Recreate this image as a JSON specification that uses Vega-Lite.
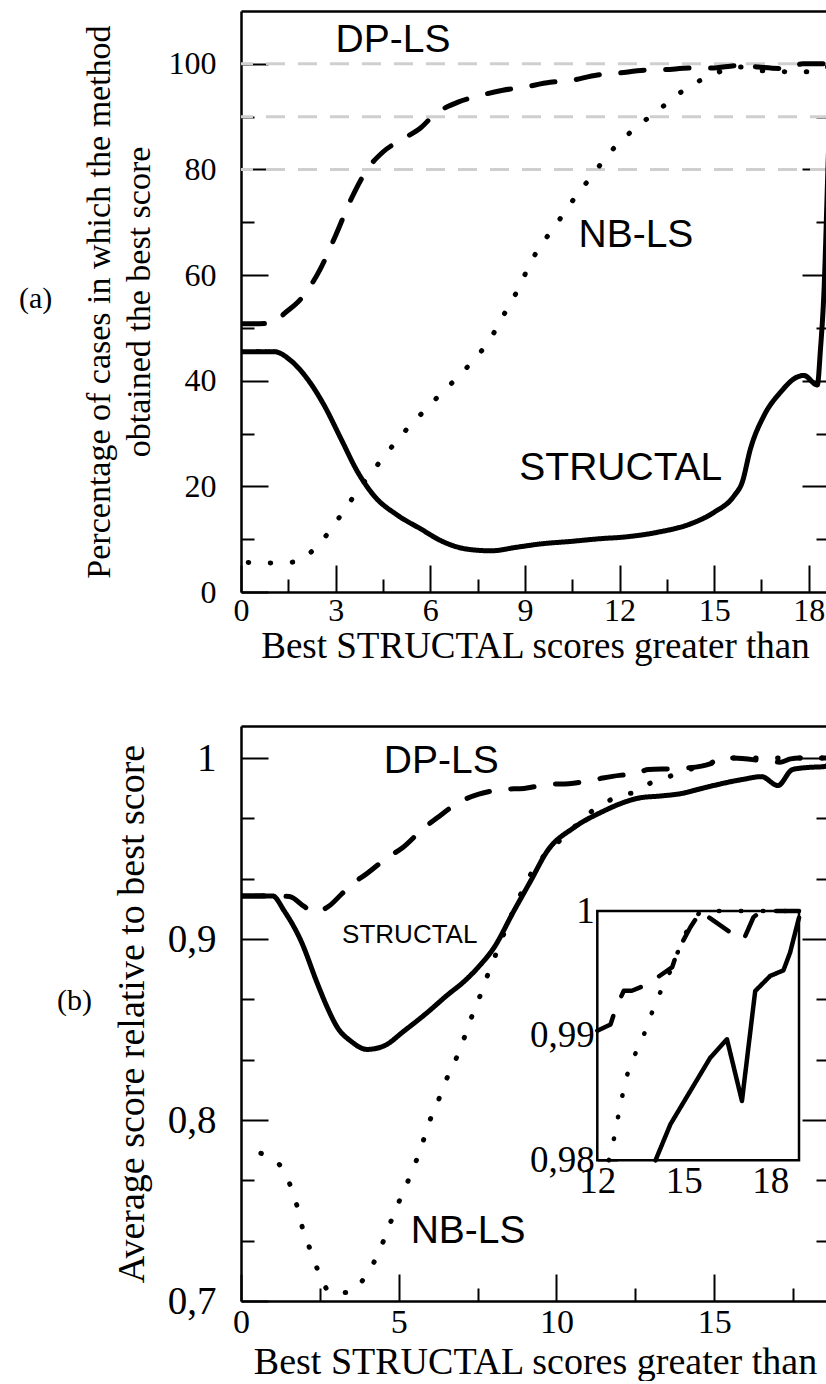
{
  "$schema": "https://vega.github.io/schema/vega-lite/v6.json",
  "padding": {"left": 18, "top": 11, "right": 0, "bottom": 0},
  "background": "white",
  "spacing": 62,
  "config": {
    "view": {"stroke": null},
    "axis": {
      "labelFont": "Liberation Serif", "titleFont": "Liberation Serif",
      "labelColor": "black", "titleColor": "black", "domainColor": "black", "tickColor": "black",
      "titleFontWeight": "normal", "domainWidth": 2.5, "tickWidth": 2, "grid": false,
      "labelFlush": false, "labelOverlap": false
    }
  },
  "datasets": {
    "a": [
      {"series":"STRUCTAL","x":0,"y":45.5},{"series":"STRUCTAL","x":0.5,"y":45.5},{"series":"STRUCTAL","x":1.05,"y":45.5},{"series":"STRUCTAL","x":1.58,"y":43.8},{"series":"STRUCTAL","x":2.11,"y":40.3},{"series":"STRUCTAL","x":2.64,"y":35.3},{"series":"STRUCTAL","x":3.17,"y":29.0},{"series":"STRUCTAL","x":3.7,"y":22.7},{"series":"STRUCTAL","x":4.22,"y":18.2},{"series":"STRUCTAL","x":4.97,"y":14.5},{"series":"STRUCTAL","x":5.71,"y":11.9},{"series":"STRUCTAL","x":6.34,"y":9.7},{"series":"STRUCTAL","x":7.18,"y":8.1},{"series":"STRUCTAL","x":7.92,"y":7.8},{"series":"STRUCTAL","x":8.77,"y":8.5},{"series":"STRUCTAL","x":9.5,"y":9.1},{"series":"STRUCTAL","x":10.5,"y":9.6},{"series":"STRUCTAL","x":11.4,"y":10.1},{"series":"STRUCTAL","x":12.14,"y":10.4},{"series":"STRUCTAL","x":13.2,"y":11.3},{"series":"STRUCTAL","x":14.25,"y":12.9},{"series":"STRUCTAL","x":15.0,"y":15.1},{"series":"STRUCTAL","x":15.63,"y":18.2},{"series":"STRUCTAL","x":15.89,"y":20.8},{"series":"STRUCTAL","x":16.15,"y":27.1},{"series":"STRUCTAL","x":16.58,"y":33.4},{"series":"STRUCTAL","x":17.1,"y":37.8},{"series":"STRUCTAL","x":17.63,"y":40.7},{"series":"STRUCTAL","x":17.84,"y":41.0},{"series":"STRUCTAL","x":18.27,"y":39.2},{"series":"STRUCTAL","x":18.37,"y":46},{"series":"STRUCTAL","x":18.47,"y":55.5},{"series":"STRUCTAL","x":18.64,"y":86},{"series":"STRUCTAL","x":18.75,"y":101},
      {"series":"DP-LS","x":0,"y":50.8},{"series":"DP-LS","x":0.57,"y":50.8},{"series":"DP-LS","x":1.05,"y":51.0},{"series":"DP-LS","x":1.37,"y":52.7},{"series":"DP-LS","x":1.9,"y":55.5},{"series":"DP-LS","x":2.5,"y":61.0},{"series":"DP-LS","x":3.0,"y":67.5},{"series":"DP-LS","x":3.5,"y":74.5},{"series":"DP-LS","x":4.0,"y":80.0},{"series":"DP-LS","x":4.5,"y":83.3},{"series":"DP-LS","x":5.2,"y":86.0},{"series":"DP-LS","x":5.7,"y":87.9},{"series":"DP-LS","x":6.1,"y":90.2},{"series":"DP-LS","x":6.9,"y":92.8},{"series":"DP-LS","x":7.4,"y":93.7},{"series":"DP-LS","x":8.3,"y":95.0},{"series":"DP-LS","x":8.9,"y":95.5},{"series":"DP-LS","x":9.8,"y":96.5},{"series":"DP-LS","x":10.4,"y":96.8},{"series":"DP-LS","x":11.3,"y":97.9},{"series":"DP-LS","x":11.9,"y":98.2},{"series":"DP-LS","x":12.8,"y":98.8},{"series":"DP-LS","x":13.4,"y":98.9},{"series":"DP-LS","x":14.3,"y":99.2},{"series":"DP-LS","x":14.9,"y":99.2},{"series":"DP-LS","x":15.8,"y":99.7},{"series":"DP-LS","x":16.4,"y":99.4},{"series":"DP-LS","x":17.3,"y":99.1},{"series":"DP-LS","x":17.8,"y":100},{"series":"DP-LS","x":18.64,"y":100},
      {"series":"NB-LS","x":0.23,"y":5.6},{"series":"NB-LS","x":1.0,"y":5.5},{"series":"NB-LS","x":1.71,"y":5.7},{"series":"NB-LS","x":2.35,"y":8.3},{"series":"NB-LS","x":2.82,"y":11.6},{"series":"NB-LS","x":3.25,"y":15.3},{"series":"NB-LS","x":3.67,"y":18.9},{"series":"NB-LS","x":4.12,"y":22.5},{"series":"NB-LS","x":4.56,"y":25.8},{"series":"NB-LS","x":5.04,"y":29.4},{"series":"NB-LS","x":5.51,"y":32.4},{"series":"NB-LS","x":6.03,"y":35.7},{"series":"NB-LS","x":6.57,"y":38.9},{"series":"NB-LS","x":7.08,"y":42.0},{"series":"NB-LS","x":7.58,"y":45.3},{"series":"NB-LS","x":8.01,"y":49.0},{"series":"NB-LS","x":8.36,"y":52.8},{"series":"NB-LS","x":8.73,"y":56.7},{"series":"NB-LS","x":9.05,"y":60.7},{"series":"NB-LS","x":9.39,"y":64.6},{"series":"NB-LS","x":9.82,"y":68.2},{"series":"NB-LS","x":10.25,"y":71.8},{"series":"NB-LS","x":10.67,"y":75.4},{"series":"NB-LS","x":11.13,"y":78.8},{"series":"NB-LS","x":11.58,"y":82.4},{"series":"NB-LS","x":12.08,"y":85.6},{"series":"NB-LS","x":12.64,"y":88.5},{"series":"NB-LS","x":13.23,"y":91.2},{"series":"NB-LS","x":13.8,"y":94.0},{"series":"NB-LS","x":14.42,"y":96.4},{"series":"NB-LS","x":15.08,"y":98.3},{"series":"NB-LS","x":15.78,"y":99.4},{"series":"NB-LS","x":16.5,"y":98.7},{"series":"NB-LS","x":17.3,"y":98.5},{"series":"NB-LS","x":18.0,"y":98.5},{"series":"NB-LS","x":18.64,"y":99.5}
    ],
    "a_grid": [{"level":80},{"level":90},{"level":100}],
    "a_text": [
      {"label":"DP-LS","x":4.82,"y":104.5},
      {"label":"NB-LS","x":12.52,"y":67.6},
      {"label":"STRUCTAL","x":12.04,"y":23.5}
    ],
    "b": [
      {"series":"STRUCTAL","x":0,"y":0.9238},{"series":"STRUCTAL","x":1.0,"y":0.9238},{"series":"STRUCTAL","x":1.37,"y":0.9155},{"series":"STRUCTAL","x":1.9,"y":0.899},{"series":"STRUCTAL","x":2.43,"y":0.875},{"series":"STRUCTAL","x":2.74,"y":0.862},{"series":"STRUCTAL","x":3.06,"y":0.851},{"series":"STRUCTAL","x":3.48,"y":0.8436},{"series":"STRUCTAL","x":4.0,"y":0.839},{"series":"STRUCTAL","x":4.53,"y":0.8409},{"series":"STRUCTAL","x":5.17,"y":0.8492},{"series":"STRUCTAL","x":5.9,"y":0.8593},{"series":"STRUCTAL","x":6.54,"y":0.869},{"series":"STRUCTAL","x":7.07,"y":0.8765},{"series":"STRUCTAL","x":7.5,"y":0.884},{"series":"STRUCTAL","x":8.02,"y":0.8952},{"series":"STRUCTAL","x":8.65,"y":0.9155},{"series":"STRUCTAL","x":9.18,"y":0.932},{"series":"STRUCTAL","x":9.71,"y":0.9486},{"series":"STRUCTAL","x":10.55,"y":0.9615},{"series":"STRUCTAL","x":11.39,"y":0.9698},{"series":"STRUCTAL","x":12.66,"y":0.978},{"series":"STRUCTAL","x":13.3,"y":0.979},{"series":"STRUCTAL","x":14.0,"y":0.9805},{"series":"STRUCTAL","x":14.54,"y":0.9829},{"series":"STRUCTAL","x":15.92,"y":0.9882},{"series":"STRUCTAL","x":16.5,"y":0.9897},{"series":"STRUCTAL","x":17.02,"y":0.9848},{"series":"STRUCTAL","x":17.48,"y":0.9936},{"series":"STRUCTAL","x":18.0,"y":0.9948},{"series":"STRUCTAL","x":18.46,"y":0.9952},{"series":"STRUCTAL","x":18.64,"y":0.9963},
      {"series":"DP-LS","x":0,"y":0.9238},{"series":"DP-LS","x":1.0,"y":0.9238},{"series":"DP-LS","x":1.53,"y":0.9235},{"series":"DP-LS","x":2.0,"y":0.918},{"series":"DP-LS","x":2.3,"y":0.9148},{"series":"DP-LS","x":2.79,"y":0.9182},{"series":"DP-LS","x":3.2,"y":0.925},{"series":"DP-LS","x":3.64,"y":0.932},{"series":"DP-LS","x":3.9,"y":0.935},{"series":"DP-LS","x":4.64,"y":0.945},{"series":"DP-LS","x":5.12,"y":0.9504},{"series":"DP-LS","x":5.75,"y":0.9606},{"series":"DP-LS","x":6.22,"y":0.967},{"series":"DP-LS","x":6.96,"y":0.976},{"series":"DP-LS","x":7.54,"y":0.98},{"series":"DP-LS","x":8.33,"y":0.9827},{"series":"DP-LS","x":8.97,"y":0.9832},{"series":"DP-LS","x":9.76,"y":0.9855},{"series":"DP-LS","x":10.39,"y":0.9858},{"series":"DP-LS","x":11.18,"y":0.988},{"series":"DP-LS","x":12.0,"y":0.9904},{"series":"DP-LS","x":12.46,"y":0.9909},{"series":"DP-LS","x":12.64,"y":0.9922},{"series":"DP-LS","x":12.92,"y":0.9936},{"series":"DP-LS","x":13.73,"y":0.9941},{"series":"DP-LS","x":14.6,"y":0.9955},{"series":"DP-LS","x":15.23,"y":0.9987},{"series":"DP-LS","x":15.6,"y":1.0},{"series":"DP-LS","x":16.73,"y":0.9981},{"series":"DP-LS","x":17.08,"y":0.9977},{"series":"DP-LS","x":17.42,"y":0.9995},{"series":"DP-LS","x":17.7,"y":1.0},{"series":"DP-LS","x":18.64,"y":1.0},
      {"series":"NB-LS","x":0.63,"y":0.7816},{"series":"NB-LS","x":1.21,"y":0.7755},{"series":"NB-LS","x":1.56,"y":0.764},{"series":"NB-LS","x":1.79,"y":0.7516},{"series":"NB-LS","x":1.97,"y":0.739},{"series":"NB-LS","x":2.22,"y":0.7273},{"series":"NB-LS","x":2.48,"y":0.7151},{"series":"NB-LS","x":2.87,"y":0.7043},{"series":"NB-LS","x":3.48,"y":0.705},{"series":"NB-LS","x":3.98,"y":0.7147},{"series":"NB-LS","x":4.33,"y":0.7254},{"series":"NB-LS","x":4.61,"y":0.7374},{"series":"NB-LS","x":4.88,"y":0.7497},{"series":"NB-LS","x":5.17,"y":0.7612},{"series":"NB-LS","x":5.46,"y":0.7733},{"series":"NB-LS","x":5.72,"y":0.7853},{"series":"NB-LS","x":5.94,"y":0.7976},{"series":"NB-LS","x":6.22,"y":0.8092},{"series":"NB-LS","x":6.49,"y":0.8215},{"series":"NB-LS","x":6.8,"y":0.8331},{"series":"NB-LS","x":7.07,"y":0.8451},{"series":"NB-LS","x":7.31,"y":0.8569},{"series":"NB-LS","x":7.59,"y":0.8691},{"series":"NB-LS","x":7.86,"y":0.882},{"series":"NB-LS","x":8.12,"y":0.8934},{"series":"NB-LS","x":8.39,"y":0.9054},{"series":"NB-LS","x":8.9,"y":0.926},{"series":"NB-LS","x":9.34,"y":0.9403},{"series":"NB-LS","x":9.81,"y":0.9496},{"series":"NB-LS","x":10.39,"y":0.9587},{"series":"NB-LS","x":10.86,"y":0.967},{"series":"NB-LS","x":11.55,"y":0.9753},{"series":"NB-LS","x":12.13,"y":0.98},{"series":"NB-LS","x":12.52,"y":0.981},{"series":"NB-LS","x":12.83,"y":0.9847},{"series":"NB-LS","x":13.25,"y":0.9882},{"series":"NB-LS","x":13.59,"y":0.9899},{"series":"NB-LS","x":13.87,"y":0.9917},{"series":"NB-LS","x":14.19,"y":0.9935},{"series":"NB-LS","x":14.6,"y":0.9955},{"series":"NB-LS","x":15.0,"y":0.998},{"series":"NB-LS","x":15.58,"y":1.0},{"series":"NB-LS","x":18.64,"y":1.0}
    ],
    "b_text": [
      {"label":"DP-LS","x":6.35,"y":0.9983},
      {"label":"NB-LS","x":7.2,"y":0.7387}
    ],
    "b_small": [{"label":"STRUCTAL","x":5.35,"y":0.9022}],
    "inset": [
      {"series":"STRUCTAL","x":14.02,"y":0.98},{"series":"STRUCTAL","x":14.54,"y":0.9829},{"series":"STRUCTAL","x":15.92,"y":0.98823},{"series":"STRUCTAL","x":16.5,"y":0.98971},{"series":"STRUCTAL","x":17.02,"y":0.98476},{"series":"STRUCTAL","x":17.48,"y":0.99358},{"series":"STRUCTAL","x":18.0,"y":0.99479},{"series":"STRUCTAL","x":18.46,"y":0.99524},{"series":"STRUCTAL","x":18.69,"y":0.99666},{"series":"STRUCTAL","x":19.0,"y":0.99947},
      {"series":"DP-LS","x":12.0,"y":0.9904},{"series":"DP-LS","x":12.46,"y":0.9909},{"series":"DP-LS","x":12.64,"y":0.9922},{"series":"DP-LS","x":12.92,"y":0.9936},{"series":"DP-LS","x":13.2,"y":0.9936},{"series":"DP-LS","x":13.73,"y":0.9941},{"series":"DP-LS","x":14.6,"y":0.9955},{"series":"DP-LS","x":14.77,"y":0.9967},{"series":"DP-LS","x":15.23,"y":0.9987},{"series":"DP-LS","x":15.6,"y":1.0},{"series":"DP-LS","x":15.8,"y":0.9996},{"series":"DP-LS","x":16.73,"y":0.9981},{"series":"DP-LS","x":17.08,"y":0.9977},{"series":"DP-LS","x":17.42,"y":0.9995},{"series":"DP-LS","x":17.7,"y":1.0},{"series":"DP-LS","x":19.0,"y":1.0},
      {"series":"NB-LS","x":12.4,"y":0.98},{"series":"NB-LS","x":12.52,"y":0.981},{"series":"NB-LS","x":12.67,"y":0.9829},{"series":"NB-LS","x":12.83,"y":0.9847},{"series":"NB-LS","x":12.98,"y":0.9865},{"series":"NB-LS","x":13.25,"y":0.9882},{"series":"NB-LS","x":13.59,"y":0.9899},{"series":"NB-LS","x":13.87,"y":0.9917},{"series":"NB-LS","x":14.19,"y":0.9935},{"series":"NB-LS","x":14.6,"y":0.9955},{"series":"NB-LS","x":15.0,"y":0.998},{"series":"NB-LS","x":15.58,"y":1.0},{"series":"NB-LS","x":19.0,"y":1.0}
    ],
    "inset_box": [{"x0":12,"x1":19,"y0":0.98,"y1":1.0}]
  },
  "vconcat": [
    {
      "width": 588, "height": 581,
      "layer": [
        {
          "data": {"name": "a_grid"},
          "mark": {"type": "rule", "stroke": "#cfcfcf", "strokeWidth": 3, "strokeDash": [19, 13]},
          "encoding": {
            "y": {"field": "level", "type": "quantitative",
              "scale": {"domain": [0, 110], "nice": false, "zero": false},
              "axis": {"orient": "left", "values": [0,10,20,30,40,50,60,70,80,90,100],
                "labelExpr": "datum.value % 20 == 0 ? datum.label : ''",
                "tickSize": -27,
                "tickDash": {"condition": {"test": "datum.value % 20 != 0", "value": [13, 60]}, "value": [60, 0]},
                "labelPadding": 52, "labelFontSize": 32,
                "title": ["Percentage of cases in which the method", "obtained the best score"],
                "titleFontSize": 34, "titleLineHeight": 40, "titlePadding": 12}}
          }
        },
        {
          "data": {"name": "a"},
          "mark": {"type": "line", "interpolate": "monotone", "color": "black", "strokeCap": "round", "strokeJoin": "round", "clip": true},
          "encoding": {
            "x": {"field": "x", "type": "quantitative",
              "scale": {"domain": [0, 18.64], "nice": false, "zero": false},
              "axis": {"orient": "bottom", "values": [0,1.5,3,4.5,6,7.5,9,10.5,12,13.5,15,16.5,18],
                "labelExpr": "datum.value % 3 == 0 ? datum.label : ''",
                "tickSize": -27,
                "tickDash": {"condition": {"test": "datum.value % 3 != 0", "value": [13, 60]}, "value": [60, 0]},
                "labelPadding": 30, "labelFontSize": 32,
                "title": "Best STRUCTAL scores greater than", "titleFontSize": 37, "titlePadding": 2}},
            "y": {"field": "y", "type": "quantitative", "scale": {"domain": [0, 110], "nice": false, "zero": false}, "axis": null},
            "strokeDash": {"field": "series", "type": "nominal",
              "scale": {"domain": ["STRUCTAL", "DP-LS", "NB-LS"], "range": [[1, 0], [23.5, 21.5], [0.5, 21.5]]},
              "legend": null},
            "strokeWidth": {"field": "series", "type": "nominal",
              "scale": {"domain": ["STRUCTAL", "DP-LS", "NB-LS"], "range": [5, 5, 6.5]},
              "legend": null}
          }
        },
        {
          "data": {"name": "a_text"},
          "mark": {"type": "text", "font": "Liberation Sans", "fontSize": 39, "baseline": "middle", "align": "center", "color": "black"},
          "encoding": {
            "x": {"field": "x", "type": "quantitative", "scale": {"domain": [0, 18.64], "nice": false, "zero": false},
              "axis": {"orient": "top", "ticks": false, "labels": false, "domain": true, "title": null}},
            "y": {"field": "y", "type": "quantitative", "scale": {"domain": [0, 110], "nice": false, "zero": false},
              "axis": {"orient": "right", "domain": false, "labels": false, "title": null,
                "values": [10,20,30,40,50,60,70,80,90,100], "tickSize": -27,
                "tickDash": {"condition": {"test": "datum.value % 20 != 0", "value": [13, 60]}, "value": [60, 0]}}},
            "text": {"field": "label"}
          }
        },
        {
          "data": {"values": [{"tag": "(a)"}]},
          "mark": {"type": "text", "font": "Liberation Serif", "fontSize": 30, "baseline": "middle", "align": "center", "color": "black"},
          "encoding": {
            "x": {"datum": -6.51, "type": "quantitative", "scale": {"domain": [0, 18.64], "nice": false, "zero": false}, "axis": null},
            "y": {"datum": 55.5, "type": "quantitative", "scale": {"domain": [0, 110], "nice": false, "zero": false}, "axis": null},
            "text": {"field": "tag"}
          }
        }
      ],
      "resolve": {"axis": {"x": "independent", "y": "independent"}}
    },
    {
      "width": 588, "height": 575,
      "layer": [
        {
          "layer": [
            {
              "data": {"name": "b"},
              "mark": {"type": "line", "interpolate": "monotone", "color": "black", "strokeCap": "round", "strokeJoin": "round", "clip": true},
              "encoding": {
                "x": {"field": "x", "type": "quantitative",
                  "scale": {"domain": [0, 18.64], "nice": false, "zero": false},
                  "axis": {"orient": "bottom", "values": [0,2.5,5,7.5,10,12.5,15,17.5],
                    "labelExpr": "datum.value % 5 == 0 ? datum.label : ''",
                    "tickSize": -27,
                    "tickDash": {"condition": {"test": "datum.value % 5 != 0", "value": [13, 60]}, "value": [60, 0]},
                    "labelPadding": 31, "labelFontSize": 34,
                    "title": "Best STRUCTAL scores greater than", "titleFontSize": 38, "titlePadding": 4}},
                "y": {"field": "y", "type": "quantitative",
                  "scale": {"domain": [0.7, 1.01768], "nice": false, "zero": false},
                  "axis": {"orient": "left", "values": [0.7,0.73333,0.76667,0.8,0.83333,0.86667,0.9,0.93333,0.96667,1.0],
                    "labelExpr": "abs(datum.value*10 - round(datum.value*10)) < 0.01 ? replace(format(datum.value, '.1~f'), '.', ',') : ''",
                    "tickSize": -27,
                    "tickDash": {"condition": {"test": "abs(datum.value*10 - round(datum.value*10)) > 0.01", "value": [13, 60]}, "value": [60, 0]},
                    "labelPadding": 52, "labelFontSize": 39,
                    "title": "Average score relative to best score", "titleFontSize": 38, "titlePadding": 16}},
                "strokeDash": {"field": "series", "type": "nominal",
                  "scale": {"domain": ["STRUCTAL", "DP-LS", "NB-LS"], "range": [[1, 0], [23.5, 21.5], [0.5, 21.5]]},
                  "legend": null},
                "strokeWidth": {"field": "series", "type": "nominal",
                  "scale": {"domain": ["STRUCTAL", "DP-LS", "NB-LS"], "range": [5, 5, 6]},
                  "legend": null}
              }
            },
            {
              "data": {"name": "b_text"},
              "mark": {"type": "text", "font": "Liberation Sans", "fontSize": 39, "baseline": "middle", "align": "center", "color": "black"},
              "encoding": {
                "x": {"field": "x", "type": "quantitative", "scale": {"domain": [0, 18.64], "nice": false, "zero": false},
                  "axis": {"orient": "top", "ticks": false, "labels": false, "domain": true, "title": null}},
                "y": {"field": "y", "type": "quantitative", "scale": {"domain": [0.7, 1.01768], "nice": false, "zero": false},
                  "axis": {"orient": "right", "domain": false, "labels": false, "title": null,
                    "values": [0.73333,0.76667,0.8,0.83333,0.86667,0.9,0.93333,0.96667,1.0], "tickSize": -27,
                    "tickDash": {"condition": {"test": "abs(datum.value*10 - round(datum.value*10)) > 0.01", "value": [13, 60]}, "value": [60, 0]}}},
                "text": {"field": "label"}
              }
            },
            {
              "data": {"name": "b_small"},
              "mark": {"type": "text", "font": "Liberation Sans", "fontSize": 26, "baseline": "middle", "align": "center", "color": "black"},
              "encoding": {
                "x": {"field": "x", "type": "quantitative", "scale": {"domain": [0, 18.64], "nice": false, "zero": false}, "axis": null},
                "y": {"field": "y", "type": "quantitative", "scale": {"domain": [0.7, 1.01768], "nice": false, "zero": false}, "axis": null},
                "text": {"field": "label"}
              }
            },
            {
              "data": {"values": [{"tag": "(b)"}]},
              "mark": {"type": "text", "font": "Liberation Serif", "fontSize": 30, "baseline": "middle", "align": "center", "color": "black"},
              "encoding": {
                "x": {"datum": -5.28, "type": "quantitative", "scale": {"domain": [0, 18.64], "nice": false, "zero": false}, "axis": null},
                "y": {"datum": 0.8657, "type": "quantitative", "scale": {"domain": [0.7, 1.01768], "nice": false, "zero": false}, "axis": null},
                "text": {"field": "tag"}
              }
            }
          ],
          "resolve": {"axis": {"x": "independent", "y": "independent"}}
        },
        {
          "layer": [
            {
              "data": {"name": "inset_box"},
              "mark": {"type": "rect", "fill": "white", "stroke": "black", "strokeWidth": 2.5},
              "encoding": {
                "x": {"field": "x0", "type": "quantitative", "scale": {"domain": [-0.3655, 20.041], "nice": false, "zero": false},
                  "axis": {"orient": "bottom", "offset": -140.7, "domain": false, "values": [12,13.5,15,16.5,18],
                    "labelExpr": "datum.value % 3 == 0 ? datum.label : ''",
                    "tickSize": -20,
                    "tickDash": {"condition": {"test": "datum.value % 3 != 0", "value": [10, 60]}, "value": [60, 0]},
                    "labelPadding": 23, "labelFontSize": 37, "title": null}},
                "x2": {"field": "x1"},
                "y": {"field": "y0", "type": "quantitative", "scale": {"domain": [0.968712, 1.014842], "nice": false, "zero": false},
                  "axis": {"orient": "left", "offset": -356.3, "domain": false, "values": [0.98,0.98333,0.98667,0.99,0.99333,0.99667,1.0],
                    "labelExpr": "abs(datum.value*100 - round(datum.value*100)) < 0.01 ? replace(format(datum.value, '.2~f'), '.', ',') : ''",
                    "tickSize": -20,
                    "tickDash": {"condition": {"test": "abs(datum.value*100 - round(datum.value*100)) > 0.01", "value": [11, 60]}, "value": [60, 0]},
                    "labelPadding": 23, "labelFontSize": 37, "title": null}},
                "y2": {"field": "y1"}
              }
            },
            {
              "data": {"name": "inset"},
              "mark": {"type": "line", "color": "black", "strokeCap": "round", "strokeJoin": "round"},
              "encoding": {
                "x": {"field": "x", "type": "quantitative", "scale": {"domain": [-0.3655, 20.041], "nice": false, "zero": false},
                  "axis": {"orient": "top", "offset": -185, "domain": false, "labels": false, "title": null, "values": [13.5,15,16.5,18],
                    "tickSize": -20,
                    "tickDash": {"condition": {"test": "datum.value % 3 != 0", "value": [12, 60]}, "value": [60, 0]}}},
                "y": {"field": "y", "type": "quantitative", "scale": {"domain": [0.968712, 1.014842], "nice": false, "zero": false},
                  "axis": {"orient": "right", "offset": -30, "domain": false, "labels": false, "title": null, "values": [0.98333,0.98667,0.99,0.99333,0.99667],
                    "tickSize": -20,
                    "tickDash": {"condition": {"test": "abs(datum.value*100 - round(datum.value*100)) > 0.01", "value": [13, 60]}, "value": [60, 0]}}},
                "strokeDash": {"field": "series", "type": "nominal",
                  "scale": {"domain": ["STRUCTAL", "DP-LS", "NB-LS"], "range": [[1, 0], [23.5, 21.5], [0.5, 21.5]]},
                  "legend": null},
                "strokeWidth": {"field": "series", "type": "nominal",
                  "scale": {"domain": ["STRUCTAL", "DP-LS", "NB-LS"], "range": [4.5, 4.5, 5.5]},
                  "legend": null}
              }
            }
          ],
          "resolve": {"axis": {"x": "independent", "y": "independent"}}
        }
      ],
      "resolve": {"scale": {"x": "independent", "y": "independent", "strokeDash": "independent", "strokeWidth": "independent"}, "axis": {"x": "independent", "y": "independent"}}
    }
  ]
}
